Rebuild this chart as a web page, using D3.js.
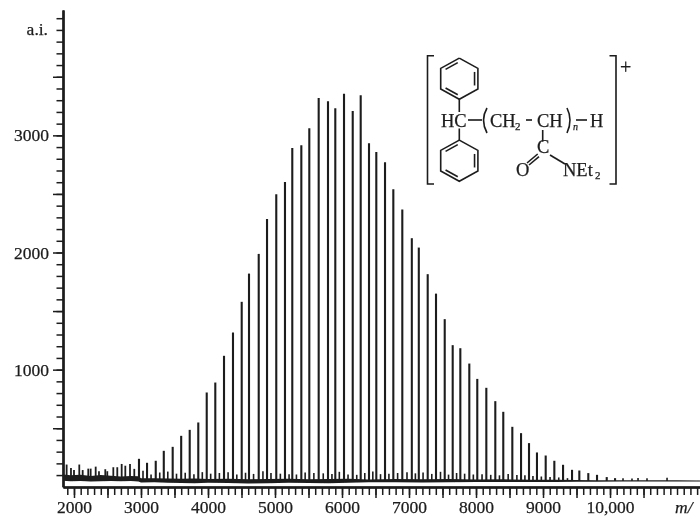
<!DOCTYPE html>
<html>
<head>
<meta charset="utf-8">
<script src="https://cdn.jsdelivr.net/npm/d3@7/dist/d3.min.js"></script>
<style>
html, body { margin: 0; padding: 0; background: #fff; overflow: hidden; }
svg { display: block; }
text { font-family: "Liberation Serif", serif; fill: #1c1c1c; stroke: #1c1c1c; stroke-width: 0.25; }
</style>
</head>
<body>
<div id="drawing"></div>
<script>
// main oligomer peaks
var peakMz = [2970,3090,3220,3340,3473,3600,3727,3855,3981,4109,4239,4373,4503,4612,4757,4881,5019,5149,5258,5393,5512,5652,5791,5900,6030,6160,6279,6403,6512,6642,6766,6900,7042,7146,7279,7403,7533,7652,7766,7900,8019,8154,8288,8407,8542,8672,8791,8910,9040,9169,9299,9433,9542,9676,9806,9951,10075];
var peakAi = [239,205,222,307,341,435,486,549,805,890,1118,1317,1579,1820,1988,2287,2497,2602,2893,2916,3061,3319,3291,3231,3356,3208,3342,2933,2858,2770,2540,2367,2122,2042,1815,1649,1431,1209,1183,1052,921,845,731,640,512,458,373,293,267,222,188,145,139,117,102,83,74];

// small satellite peaks next to the main ones
var satMz = [3030,3150,3280,3400,3530,3660,3790,3915,4040,4170,4300,4430,4560,4680,4820,4940,5080,5210,5320,5450,5580,5720,5850,5960,6090,6220,6340,6460,6575,6700,6830,6970,7095,7210,7340,7470,7590,7710,7830,7960,8090,8220,8350,8480,8610,8730,8850,8975,9105,9235,9365,10194,10328,10418,10552,10851];
var satAi = [137,105,122,130,112,120,108,125,112,118,125,105,120,110,132,118,112,108,105,122,118,115,110,128,105,102,118,130,108,112,118,125,115,122,110,128,104,118,112,105,108,102,98,110,100,98,92,88,84,80,74,72,70,76,72,78];

// noise at the low mass end
var noiseMz = [1890,1955,2000,2079,2130,2213,2249,2324,2373,2467,2497,2587,2646,2712,2766,2836,2900];
var noiseAi = [190,160,143,190,143,155,155,172,133,150,133,167,167,195,180,195,153];

// baseline band, upper and lower edge
var baseMz = [1840,1950,2100,2250,2400,2550,2700,2850,2960,3000,3200,3400,3600,3800,4000,4300,4600,4900,5200,5500,5800,6100,6400,6800,7200,7600,8000,8400,8800,9200,9500,9800,10200,10600,11000,11343];
var baseHi = [105,98,102,92,100,95,88,92,90,72,74,70,68,70,66,68,64,66,68,64,66,68,62,66,64,66,62,64,60,60,58,56,56,55,56,54];
var baseLo = [52,48,50,46,48,50,48,50,46,36,38,34,32,30,34,32,28,30,34,32,30,34,38,38,36,38,40,40,40,42,44,44,46,45,46,46];

// axis ticks
var xLabelTicks = [2000,3000,4000,5000,6000,7000,8000,9000,10000];
var xLabelText = ["2000","3000","4000","5000","6000","7000","8000","9000","10,000"];
var yLabelTicks = [1000,2000,3000];
var yHalfTicks = [500,1500,2500,3500];

var width = 700, height = 517;
var inkColor = "#1c1c1c";

var svg = d3.select("#drawing")
  .append("svg")
  .attr("width", width)
  .attr("height", height);

svg.append("defs").append("filter")
  .attr("id", "scan")
  .append("feGaussianBlur")
  .attr("stdDeviation", 0.35);

var chart = svg.append("g").attr("filter", "url(#scan)");

var x = d3.scaleLinear().domain([1836, 11343]).range([63, 700]);
var y = d3.scaleLinear().domain([0, 4070]).range([486.8, 10]);

var xMinor = d3.range(1900, 11400, 100);
var xHalf = d3.range(2500, 11400, 1000);
var yMinor = d3.range(100, 4100, 100);

// x axis, three tick lengths
chart.append("g")
  .attr("transform", "translate(0,487)")
  .call(d3.axisBottom(x).tickValues(xMinor).tickSize(8).tickSizeOuter(0).tickFormat(""));
chart.append("g")
  .attr("transform", "translate(0,487)")
  .call(d3.axisBottom(x).tickValues(xHalf).tickSize(11).tickSizeOuter(0).tickFormat(""));
chart.append("g")
  .attr("class", "xlabels")
  .attr("transform", "translate(0,487)")
  .call(d3.axisBottom(x).tickValues(xLabelTicks).tickSize(11).tickSizeOuter(0).tickPadding(2.5)
    .tickFormat(function(d, i) { return xLabelText[i]; }));

// y axis
chart.append("g")
  .attr("transform", "translate(63,0)")
  .call(d3.axisLeft(y).tickValues(yMinor).tickSize(6.5).tickSizeOuter(0).tickFormat(""));
chart.append("g")
  .attr("transform", "translate(63,0)")
  .call(d3.axisLeft(y).tickValues(yHalfTicks).tickSize(10).tickSizeOuter(0).tickFormat(""));
chart.append("g")
  .attr("class", "ylabels")
  .attr("transform", "translate(63,0)")
  .call(d3.axisLeft(y).tickValues(yLabelTicks).tickSize(10).tickSizeOuter(0).tickPadding(4).tickFormat(d3.format("d")));

chart.selectAll(".domain").attr("stroke", inkColor).attr("stroke-width", 2);
chart.selectAll(".tick line").attr("stroke", inkColor).attr("stroke-width", 1.5);
chart.selectAll(".tick text")
  .attr("font-family", "Liberation Serif")
  .attr("font-size", 17.5)
  .attr("fill", inkColor);

// baseline band
var band = d3.area()
  .x(function(d, i) { return x(baseMz[i]); })
  .y0(function(d, i) { return y(baseLo[i]); })
  .y1(function(d, i) { return y(baseHi[i]); });

chart.append("path")
  .datum(baseMz)
  .attr("d", band)
  .attr("fill", inkColor);

function spikes(mz, ai, cls, w) {
  chart.selectAll("line." + cls)
    .data(mz)
    .enter().append("line")
    .attr("class", cls)
    .attr("x1", function(d) { return x(d); })
    .attr("x2", function(d) { return x(d); })
    .attr("y1", y(50))
    .attr("y2", function(d, i) { return y(ai[i]); })
    .attr("stroke", inkColor)
    .attr("stroke-width", w);
}

spikes(noiseMz, noiseAi, "noise", 1.8);
spikes(satMz, satAi, "sat", 1.6);
spikes(peakMz, peakAi, "peak", 2.1);

// axis captions
chart.append("text").attr("x", 48).attr("y", 35).attr("text-anchor", "end")
  .attr("font-size", 17.5).text("a.i.");
chart.append("text").attr("x", 675).attr("y", 513)
  .attr("font-size", 17.5).attr("font-style", "italic").text("m/");

// structure inset
var mol = chart.append("g")
  .attr("fill", "none")
  .attr("stroke", inkColor)
  .attr("stroke-width", 1.6);

function seg(x1, y1, x2, y2) {
  mol.append("line").attr("x1", x1).attr("y1", y1).attr("x2", x2).attr("y2", y2);
}
function poly(pts) {
  mol.append("path").attr("d", d3.line()(pts));
}
function ring(cx, cy) {
  var rx = 18.6, ry = 20.6;
  var v = [[cx, cy - ry], [cx + rx, cy - ry / 2], [cx + rx, cy + ry / 2],
           [cx, cy + ry], [cx - rx, cy + ry / 2], [cx - rx, cy - ry / 2], [cx, cy - ry]];
  poly(v);
  // inner double bonds
  [1, 3, 5].forEach(function(k) {
    var a = v[k], b = v[k + 1];
    var f = 0.82;
    var ax = cx + (a[0] - cx) * f, ay = cy + (a[1] - cy) * f;
    var bx = cx + (b[0] - cx) * f, by = cy + (b[1] - cy) * f;
    seg(ax + (bx - ax) * 0.1, ay + (by - ay) * 0.1, ax + (bx - ax) * 0.9, ay + (by - ay) * 0.9);
  });
}

poly([[434, 55.7], [427.5, 55.7], [427.5, 184], [434, 184]]);
poly([[609.5, 55.7], [616, 55.7], [616, 184], [609.5, 184]]);
ring(459.3, 78.7);
ring(459.3, 160.7);
seg(459.3, 99.3, 459.3, 112);
seg(459.3, 128.5, 459.3, 140.1);
seg(468, 120, 482, 120);
seg(526, 120, 532, 120);
seg(576, 120, 587, 120);
seg(542.7, 130, 542.7, 141.7);
seg(527, 163, 537.7, 154);
seg(529, 165, 539, 156.7);
seg(550, 155, 565, 164);
mol.append("path").attr("d", "M487,108 Q480,120 487,133");
mol.append("path").attr("d", "M567,108 Q573,120 567,133");

function label(tx, ty, str, size, italic) {
  var t = chart.append("text").attr("x", tx).attr("y", ty)
    .attr("font-size", size || 18.5).text(str);
  if (italic) t.attr("font-style", "italic");
}
label(441, 127, "HC");
label(490, 127, "CH");
label(515, 130, "2", 11);
label(537, 127, "CH");
label(573, 130, "n", 10, true);
label(590, 127, "H");
label(537, 153, "C");
label(516, 176, "O");
label(563, 176, "NEt");
label(595, 179, "2", 11);
label(620, 74, "+", 20);
</script>
</body>
</html>
